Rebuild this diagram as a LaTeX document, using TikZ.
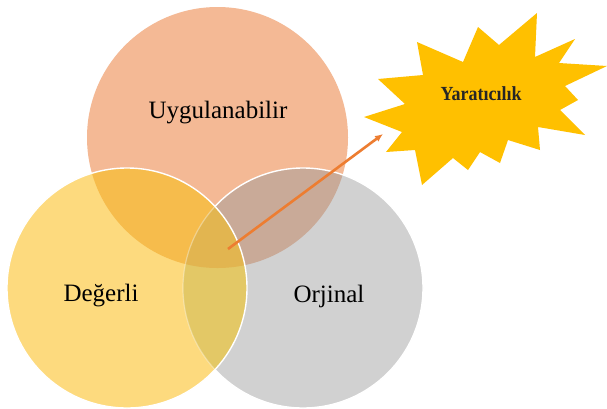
\documentclass[tikz,border=0pt]{standalone}
\usepackage{fontspec}
\setmainfont{Liberation Serif}
\usetikzlibrary{arrows.meta}
\begin{document}
\begin{tikzpicture}[x=1pt,y=-1pt,
  lbl/.style={font=\fontsize{25}{28}\selectfont, text=black},
  rim/.style={draw=white, line width=1.4pt}]
\definecolor{cSalmon}{HTML}{F4B995}
\definecolor{cGray}{HTML}{D1D1D1}
\definecolor{cYellow}{HTML}{FDDA7E}
\definecolor{cSY}{HTML}{F6BC4C}
\definecolor{cSG}{HTML}{C9AA98}
\definecolor{cYG}{HTML}{E3C866}
\definecolor{cAll}{HTML}{E2B550}
\definecolor{cArrow}{HTML}{ED7D31}
\definecolor{cBurst}{HTML}{FFC000}
\useasboundingbox (0,0) rectangle (607,408);
\fill[white] (0,0) rectangle (607,408);

\def\topc{(217.5,137.5) circle (130.5)}
\def\leftc{(127,288) circle (120)}
\def\rightc{(303,288) circle (120)}

% top circle
\fill[cSalmon] \topc;
% right circle and its overlap with the top one
\fill[cGray] \rightc;
\begin{scope}\clip \topc; \fill[cSG] \rightc; \end{scope}
\draw[rim] \rightc;
% left circle and its overlaps
\fill[cYellow] \leftc;
\begin{scope}\clip \topc; \fill[cSY] \leftc; \end{scope}
\begin{scope}\clip \rightc; \fill[cYG] \leftc; \end{scope}
\begin{scope}\clip \topc; \clip \rightc; \fill[cAll] \leftc; \end{scope}
\begin{scope}\clip \leftc; \draw[draw=white, draw opacity=0.35, line width=1.2pt] \rightc; \end{scope}
\draw[rim] \leftc;

% labels
\node[lbl] (uyg) at (218,113) {Uygulanabilir};
\node[lbl] (deg) at (101,296) {Değerli};
\node[lbl] (orj) at (329,296) {Orjinal};

% burst
\fill[cBurst] (364,117) -- (405,104) -- (378,79) -- (423,75) -- (417,42) -- (463,62)
  -- (478,27) -- (499,45) -- (537,13) -- (535,57) -- (575,39) -- (559,63) -- (607,66)
  -- (565,86) -- (578,100) -- (560,110) -- (585,135) -- (538,127) -- (540,150)
  -- (508,140) -- (500,163) -- (480,152) -- (468,170) -- (453,158) -- (422,185)
  -- (415,150) -- (386,152) -- (402,132) -- cycle;
\node[font=\fontsize{20}{22}\selectfont\bfseries, text=black!85] (burst) at (481,94)
  {\scalebox{0.9}[1]{Yaratıcılık}};

% arrow from the common area toward the burst
\coordinate (core) at (228,249);
\coordinate (aim) at (383,134);
\draw[cArrow, line width=2.6pt, -{Latex[length=8pt,width=7pt]}] (core) -- (aim);
\end{tikzpicture}
\end{document}
